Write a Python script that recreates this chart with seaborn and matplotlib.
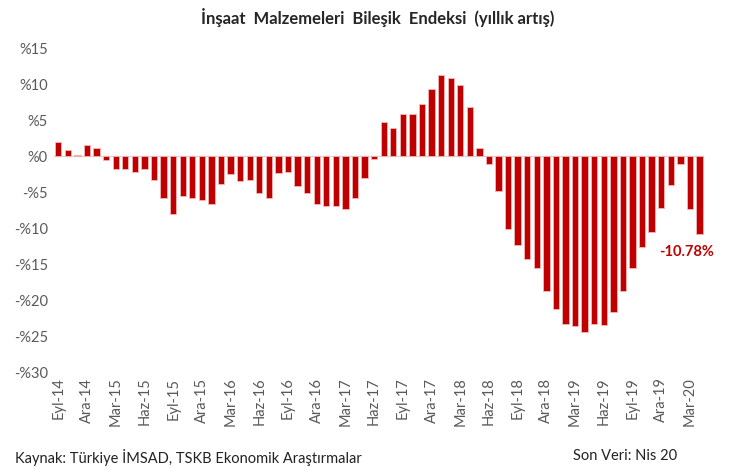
import seaborn as sns
import matplotlib.pyplot as plt
import pandas as pd

# Monthly labels, Sep 2014 - Apr 2020
aylar = ['Oca', 'Şub', 'Mar', 'Nis', 'May', 'Haz', 'Tem', 'Ağu', 'Eyl', 'Eki', 'Kas', 'Ara']
months = [f"{aylar[(8 + i) % 12]}-{14 + (8 + i) // 12}" for i in range(68)]

# annual change (%)
values = [2.0, 0.8, 0.1, 1.5, 1.05, -0.6, -1.85, -1.85, -2.2, -1.85,
          -3.3, -5.9, -8.0, -5.6, -5.9, -6.1, -6.6, -3.9, -2.55, -3.5,
          -3.4, -5.2, -5.9, -2.3, -2.2, -4.1, -5.2, -6.6, -6.9, -7.0,
          -7.3, -5.9, -3.1, -0.45, 4.7, 3.9, 5.8, 5.9, 7.2, 9.3,
          11.25, 10.9, 9.8, 6.85, 1.15, -1.15, -4.8, -10.2, -12.3, -14.3,
          -15.5, -18.8, -21.2, -23.3, -23.6, -24.4, -23.3, -23.5, -21.6, -18.8,
          -15.6, -12.7, -10.6, -7.2, -4.0, -1.15, -7.3, -10.78]

y_ticks = [15, 10, 5, 0, -5, -10, -15, -20, -25, -30]

df = pd.DataFrame({'month': months, 'value': values})

sns.set_style('white')
plt.rcParams['font.family'] = ['Lato', 'DejaVu Sans']

fig = plt.figure(figsize=(7.34, 4.68), dpi=100)
ax = fig.add_axes([0.0729, 0.2051, 0.8866, 0.6923])

sns.barplot(data=df, x='month', y='value', color='#C00000', width=0.66,
            edgecolor='#F2B8B8', linewidth=0.6, saturation=1, ax=ax)

ax.axhline(0, color='#D9D9D9', linewidth=1, zorder=0)
ax.set_ylim(-30, 15)
ax.set_xlim(-0.5, len(months) - 0.5)
sns.despine(ax=ax, left=True, bottom=True)

ax.set_yticks(y_ticks)
ax.set_yticklabels([f"%{v}" if v >= 0 else f"-%{-v}" for v in y_ticks],
                   color='#595959', fontsize=10.5)
tick_pos = list(range(0, len(months), 3))
ax.set_xticks(tick_pos)
ax.set_xticklabels([months[i] for i in tick_pos], rotation=90,
                   color='#595959', fontsize=10.5)
ax.tick_params(axis='both', length=0, pad=4)
ax.set_xlabel('')
ax.set_ylabel('')

ax.text(len(months) - 2.3, values[-1] - 2.6, '-10.78%', color='#C00000',
        fontsize=10.5, fontweight='bold', ha='center', va='center')

fig.text(0.515, 0.962, 'İnşaat  Malzemeleri  Bileşik  Endeksi  (yıllık artış)',
         ha='center', va='center', fontsize=12, fontweight='bold')
fig.text(0.02, 0.022, 'Kaynak: Türkiye İMSAD, TSKB Ekonomik Araştırmalar',
         ha='left', va='center', fontsize=10.5, color='#222222')
fig.text(0.922, 0.026, 'Son Veri: Nis 20', ha='right', va='center',
         fontsize=10.5, color='#222222')

fig.savefig('out.png', dpi=100)
